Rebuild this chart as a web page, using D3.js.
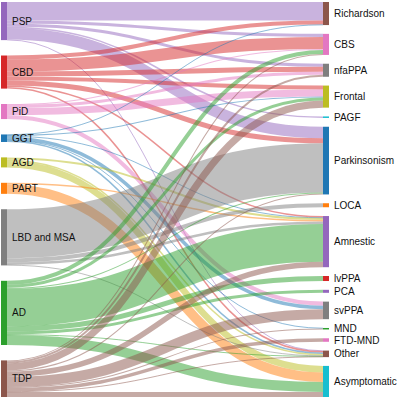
<!DOCTYPE html>
<html>
<head>
<meta charset="utf-8">
<style>
body{margin:0;background:#fff}
text{font-family:"Liberation Sans",Arial,sans-serif;font-size:10px;fill:#111}
</style>
</head>
<body>
<div id="graph"></div>
<script src="https://cdn.jsdelivr.net/npm/d3@7"></script>
<script>
// left column: pathology, right column: clinical presentation
var sources = ['PSP', 'CBD', 'PiD', 'GGT', 'AGD', 'PART', 'LBD and MSA', 'AD', 'TDP']
var targets = ['Richardson', 'CBS', 'nfaPPA', 'Frontal', 'PAGF', 'Parkinsonism', 'LOCA',
  'Amnestic', 'lvPPA', 'PCA', 'svPPA', 'MND', 'FTD-MND', 'Other', 'Asymptomatic']

var flows = [
  ['PSP', 'Richardson', 18.5], ['PSP', 'CBS', 3], ['PSP', 'nfaPPA', 3], ['PSP', 'PAGF', 1.5],
  ['PSP', 'Parkinsonism', 11.5], ['PSP', 'Other', 0.5],
  ['CBD', 'Richardson', 4], ['CBD', 'CBS', 12], ['CBD', 'nfaPPA', 5], ['CBD', 'Frontal', 4],
  ['CBD', 'Parkinsonism', 5], ['CBD', 'Amnestic', 1.5], ['CBD', 'Other', 1.5],
  ['PiD', 'CBS', 1], ['PiD', 'nfaPPA', 3], ['PiD', 'Frontal', 7], ['PiD', 'svPPA', 4],
  ['GGT', 'Richardson', 0.5], ['GGT', 'Frontal', 1], ['GGT', 'Amnestic', 0.5],
  ['GGT', 'svPPA', 3.5], ['GGT', 'MND', 0.5], ['GGT', 'Other', 1.5],
  ['AGD', 'Amnestic', 2], ['AGD', 'Other', 1.5], ['AGD', 'Asymptomatic', 6.5],
  ['PART', 'Amnestic', 1.5], ['PART', 'Asymptomatic', 9.5],
  ['LBD and MSA', 'Parkinsonism', 49], ['LBD and MSA', 'LOCA', 4], ['LBD and MSA', 'Amnestic', 2.5],
  ['LBD and MSA', 'Other', 0.5],
  ['AD', 'CBS', 4], ['AD', 'Frontal', 3], ['AD', 'Parkinsonism', 1], ['AD', 'Amnestic', 37.5],
  ['AD', 'lvPPA', 5], ['AD', 'PCA', 3], ['AD', 'Other', 0.5], ['AD', 'Asymptomatic', 10],
  ['TDP', 'CBS', 1], ['TDP', 'nfaPPA', 2], ['TDP', 'Frontal', 7], ['TDP', 'Parkinsonism', 1],
  ['TDP', 'Amnestic', 5.5], ['TDP', 'svPPA', 10], ['TDP', 'MND', 1], ['TDP', 'FTD-MND', 3.5],
  ['TDP', 'Other', 0.5], ['TDP', 'Asymptomatic', 5]
]

var c10 = d3.schemeCategory10
var colors = {
  PSP: c10[4], CBD: c10[3], PiD: c10[6], GGT: c10[0], AGD: c10[8], PART: c10[1],
  'LBD and MSA': c10[7], AD: c10[2], TDP: c10[5],
  Richardson: c10[5], CBS: c10[6], nfaPPA: c10[7], Frontal: c10[8], PAGF: c10[9],
  Parkinsonism: c10[0], LOCA: c10[1], Amnestic: c10[4], lvPPA: c10[3], PCA: c10[4],
  svPPA: c10[7], MND: c10[2], 'FTD-MND': c10[6], Other: c10[5], Asymptomatic: c10[9]
}

// ---- two column sankey layout ----
var X0 = 1, X1 = 329, Y0 = 2, Y1 = 397, nodeWidth = 6, nodePadding = 8.8

var nodes = sources.map(name => ({name, layer: 0}))
  .concat(targets.map(name => ({name, layer: 1})))
nodes.forEach((d, i) => { d.index = i; d.sourceLinks = []; d.targetLinks = [] })
var byName = new Map(nodes.map(d => [d.name, d]))

var links = flows.map(([s, t, value], i) => {
  var l = {index: i, source: byName.get(s), target: byName.get(t), value}
  l.source.sourceLinks.push(l)
  l.target.targetLinks.push(l)
  return l
})

nodes.forEach(d => {
  d.value = Math.max(d3.sum(d.sourceLinks, l => l.value), d3.sum(d.targetLinks, l => l.value))
})

var columns = [nodes.filter(d => d.layer == 0), nodes.filter(d => d.layer == 1)]

var x = d3.scaleLinear().domain([0, 1]).range([X0, X1 - nodeWidth])
nodes.forEach(d => { d.x0 = x(d.layer); d.x1 = d.x0 + nodeWidth })

// the fullest column sets the value -> pixel scale
var ky = d3.min(columns, c => (Y1 - Y0 - (c.length - 1) * nodePadding) / d3.sum(c, d => d.value))
var h = d3.scaleLinear().domain([0, 1]).range([0, ky])

// each column spread over the full height, equal gaps between nodes
columns.forEach(col => {
  var gap = (Y1 - Y0 - d3.sum(col, n => h(n.value))) / (col.length - 1)
  var y = Y0
  col.forEach(n => {
    n.y0 = y
    n.y1 = y + h(n.value)
    y = n.y1 + gap
    n.sourceLinks.forEach(l => l.width = h(l.value))
  })
})

var ascSource = (a, b) => a.source.y0 - b.source.y0 || a.index - b.index
var ascTarget = (a, b) => a.target.y0 - b.target.y0 || a.index - b.index

nodes.forEach(n => {
  n.sourceLinks.sort(ascTarget)
  n.targetLinks.sort(ascSource)
  var a = n.y0, b = n.y0
  n.sourceLinks.forEach(l => { l.y0 = a + l.width / 2; a += l.width })
  n.targetLinks.forEach(l => { l.y1 = b + l.width / 2; b += l.width })
})

// ---- draw ----
var svg = d3.select('#graph').append('svg')
  .attr('width', 400).attr('height', 398)

var linkPath = d3.linkHorizontal()
  .source(d => [d.source.x1, d.y0])
  .target(d => [d.target.x0, d.y1])

svg.append('g')
  .attr('fill', 'none')
  .attr('stroke-opacity', 0.5)
  .selectAll('path').data(links).join('path')
  .attr('d', linkPath)
  .attr('stroke', d => colors[d.source.name])
  .attr('stroke-width', d => Math.max(1, d.width))

svg.append('g')
  .selectAll('rect').data(nodes).join('rect')
  .attr('x', d => d.x0)
  .attr('y', d => d.y0)
  .attr('width', d => d.x1 - d.x0)
  .attr('height', d => Math.max(1, d.y1 - d.y0))
  .attr('fill', d => colors[d.name])

svg.append('g')
  .selectAll('text').data(nodes).join('text')
  .attr('x', d => d.x1 + 5)
  .attr('y', d => (d.y0 + d.y1) / 2)
  .attr('dy', '0.35em')
  .text(d => d.name)
</script>
</body>
</html>
